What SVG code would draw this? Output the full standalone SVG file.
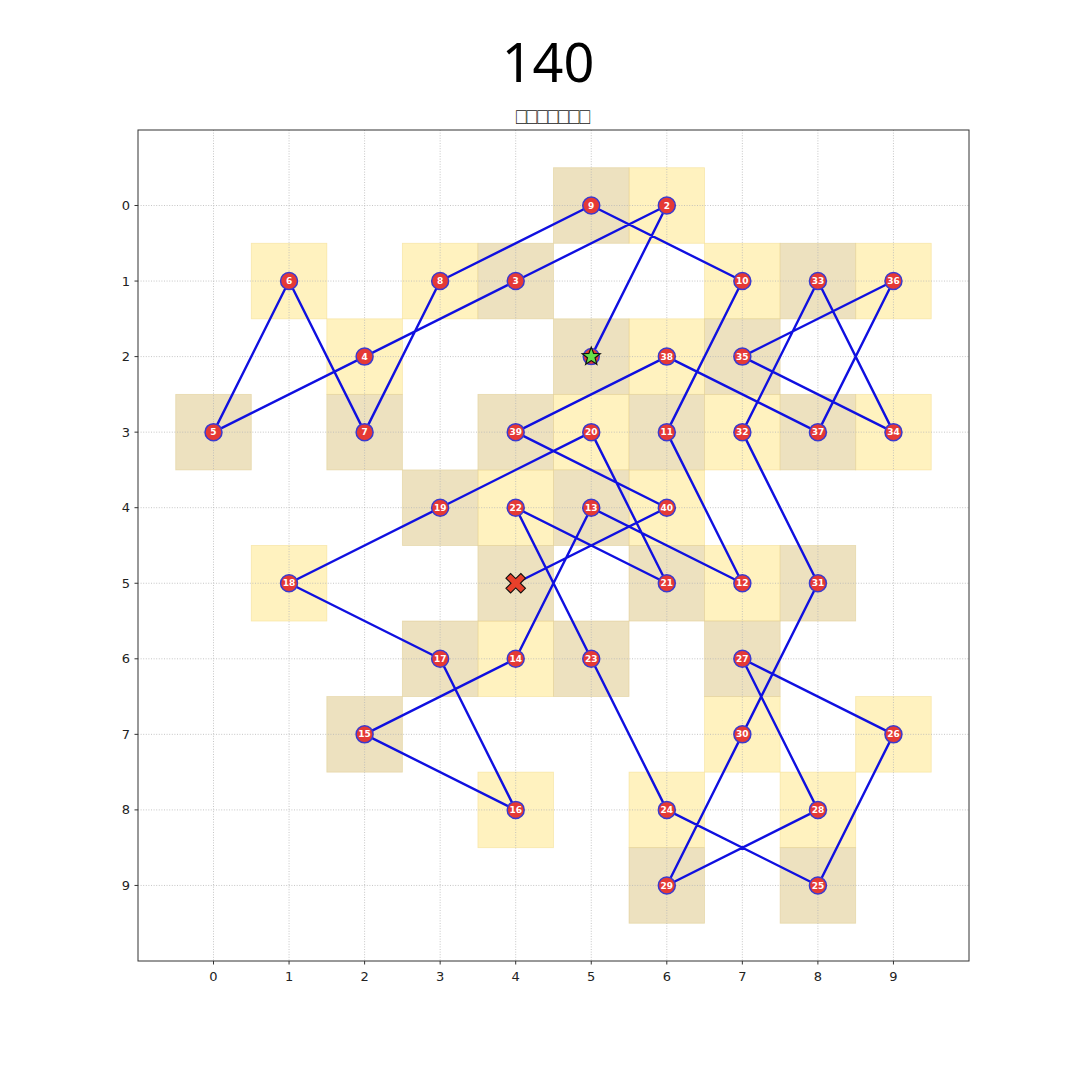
<svg xmlns="http://www.w3.org/2000/svg" width="1080" height="1080" viewBox="0 0 1080 1080">
<style>
.y{fill:#fff2bf;stroke:#f3dc8c;stroke-width:0.8;stroke-opacity:0.6}
.t{fill:#ede1bf;stroke:#e0cc8e;stroke-width:0.8;stroke-opacity:0.6}
.g{stroke:#b8b8b8;stroke-width:0.8;stroke-dasharray:1,1.6}
.tk{stroke:#333;stroke-width:1}
.tl{font-family:"DejaVu Sans",sans-serif;font-size:13px;fill:#222}
.n circle{fill:#e53935;stroke:#3a3ad0;stroke-width:1.5}
.n text{font-family:"DejaVu Sans",sans-serif;font-size:9px;font-weight:bold;fill:#fff;text-anchor:middle}
</style>
<rect width="1080" height="1080" fill="#fff"/>
<text x="548" y="82" font-family="'Noto Sans',sans-serif" font-size="54" text-anchor="middle" fill="#000">140</text>
<text x="553" y="124" font-family="'Liberation Sans',sans-serif" font-size="23" text-anchor="middle" fill="#222" textLength="74" lengthAdjust="spacingAndGlyphs">□□□□□□□</text>
<g id="cells">
<rect class="y" x="629.03" y="167.73" width="75.55" height="75.55"/>
<rect class="y" x="251.28" y="243.28" width="75.55" height="75.55"/>
<rect class="y" x="402.38" y="243.28" width="75.55" height="75.55"/>
<rect class="y" x="704.58" y="243.28" width="75.55" height="75.55"/>
<rect class="y" x="855.68" y="243.28" width="75.55" height="75.55"/>
<rect class="y" x="326.83" y="318.83" width="75.55" height="75.55"/>
<rect class="y" x="629.03" y="318.83" width="75.55" height="75.55"/>
<rect class="y" x="553.48" y="394.38" width="75.55" height="75.55"/>
<rect class="y" x="704.58" y="394.38" width="75.55" height="75.55"/>
<rect class="y" x="855.68" y="394.38" width="75.55" height="75.55"/>
<rect class="y" x="477.93" y="469.93" width="75.55" height="75.55"/>
<rect class="y" x="629.03" y="469.93" width="75.55" height="75.55"/>
<rect class="y" x="251.28" y="545.48" width="75.55" height="75.55"/>
<rect class="y" x="704.58" y="545.48" width="75.55" height="75.55"/>
<rect class="y" x="477.93" y="621.03" width="75.55" height="75.55"/>
<rect class="y" x="704.58" y="696.58" width="75.55" height="75.55"/>
<rect class="y" x="855.68" y="696.58" width="75.55" height="75.55"/>
<rect class="y" x="477.93" y="772.13" width="75.55" height="75.55"/>
<rect class="y" x="629.03" y="772.13" width="75.55" height="75.55"/>
<rect class="y" x="780.13" y="772.13" width="75.55" height="75.55"/>
<rect class="t" x="553.48" y="167.73" width="75.55" height="75.55"/>
<rect class="t" x="477.93" y="243.28" width="75.55" height="75.55"/>
<rect class="t" x="780.13" y="243.28" width="75.55" height="75.55"/>
<rect class="t" x="553.48" y="318.83" width="75.55" height="75.55"/>
<rect class="t" x="704.58" y="318.83" width="75.55" height="75.55"/>
<rect class="t" x="175.73" y="394.38" width="75.55" height="75.55"/>
<rect class="t" x="326.83" y="394.38" width="75.55" height="75.55"/>
<rect class="t" x="477.93" y="394.38" width="75.55" height="75.55"/>
<rect class="t" x="629.03" y="394.38" width="75.55" height="75.55"/>
<rect class="t" x="780.13" y="394.38" width="75.55" height="75.55"/>
<rect class="t" x="402.38" y="469.93" width="75.55" height="75.55"/>
<rect class="t" x="553.48" y="469.93" width="75.55" height="75.55"/>
<rect class="t" x="477.93" y="545.48" width="75.55" height="75.55"/>
<rect class="t" x="629.03" y="545.48" width="75.55" height="75.55"/>
<rect class="t" x="780.13" y="545.48" width="75.55" height="75.55"/>
<rect class="t" x="402.38" y="621.03" width="75.55" height="75.55"/>
<rect class="t" x="553.48" y="621.03" width="75.55" height="75.55"/>
<rect class="t" x="704.58" y="621.03" width="75.55" height="75.55"/>
<rect class="t" x="326.83" y="696.58" width="75.55" height="75.55"/>
<rect class="t" x="629.03" y="847.68" width="75.55" height="75.55"/>
<rect class="t" x="780.13" y="847.68" width="75.55" height="75.55"/>
</g>
<g id="grid">
<line class="g" x1="213.5" y1="130" x2="213.5" y2="961"/>
<line class="g" x1="289.05" y1="130" x2="289.05" y2="961"/>
<line class="g" x1="364.6" y1="130" x2="364.6" y2="961"/>
<line class="g" x1="440.15" y1="130" x2="440.15" y2="961"/>
<line class="g" x1="515.7" y1="130" x2="515.7" y2="961"/>
<line class="g" x1="591.25" y1="130" x2="591.25" y2="961"/>
<line class="g" x1="666.8" y1="130" x2="666.8" y2="961"/>
<line class="g" x1="742.35" y1="130" x2="742.35" y2="961"/>
<line class="g" x1="817.9" y1="130" x2="817.9" y2="961"/>
<line class="g" x1="893.45" y1="130" x2="893.45" y2="961"/>
<line class="g" x1="138" y1="205.5" x2="969" y2="205.5"/>
<line class="g" x1="138" y1="281.05" x2="969" y2="281.05"/>
<line class="g" x1="138" y1="356.6" x2="969" y2="356.6"/>
<line class="g" x1="138" y1="432.15" x2="969" y2="432.15"/>
<line class="g" x1="138" y1="507.7" x2="969" y2="507.7"/>
<line class="g" x1="138" y1="583.25" x2="969" y2="583.25"/>
<line class="g" x1="138" y1="658.8" x2="969" y2="658.8"/>
<line class="g" x1="138" y1="734.35" x2="969" y2="734.35"/>
<line class="g" x1="138" y1="809.9" x2="969" y2="809.9"/>
<line class="g" x1="138" y1="885.45" x2="969" y2="885.45"/>
</g>
<g id="axes">
<rect x="138" y="130" width="831" height="831" fill="none" stroke="#333" stroke-width="1"/>
<path class="tk" d="M134.5 205.5H138M134.5 281.05H138M134.5 356.6H138M134.5 432.15H138M134.5 507.7H138M134.5 583.25H138M134.5 658.8H138M134.5 734.35H138M134.5 809.9H138M134.5 885.45H138"/>
<path class="tk" d="M213.5 961V964.5M289.05 961V964.5M364.6 961V964.5M440.15 961V964.5M515.7 961V964.5M591.25 961V964.5M666.8 961V964.5M742.35 961V964.5M817.9 961V964.5M893.45 961V964.5"/>
<g class="tl" text-anchor="end">
<text x="130" y="210">0</text><text x="130" y="285.5">1</text><text x="130" y="361">2</text><text x="130" y="436.6">3</text><text x="130" y="512.2">4</text><text x="130" y="587.7">5</text><text x="130" y="663.3">6</text><text x="130" y="738.8">7</text><text x="130" y="814.4">8</text><text x="130" y="889.9">9</text>
</g>
<g class="tl" text-anchor="middle">
<text x="213.5" y="981">0</text><text x="289.05" y="981">1</text><text x="364.6" y="981">2</text><text x="440.15" y="981">3</text><text x="515.7" y="981">4</text><text x="591.25" y="981">5</text><text x="666.8" y="981">6</text><text x="742.35" y="981">7</text><text x="817.9" y="981">8</text><text x="893.45" y="981">9</text>
</g>
</g>
<g id="connectors">
<polyline fill="none" stroke="#1010e0" stroke-width="2.4" stroke-linejoin="round" points="591.25,356.6 666.8,205.5 515.7,281.05 364.6,356.6 213.5,432.15 289.05,281.05 364.6,432.15 440.15,281.05 591.25,205.5 742.35,281.05 666.8,432.15 742.35,583.25 591.25,507.7 515.7,658.8 364.6,734.35 515.7,809.9 440.15,658.8 289.05,583.25 440.15,507.7 591.25,432.15 666.8,583.25 515.7,507.7 591.25,658.8 666.8,809.9 817.9,885.45 893.45,734.35 742.35,658.8 817.9,809.9 666.8,885.45 742.35,734.35 817.9,583.25 742.35,432.15 817.9,281.05 893.45,432.15 742.35,356.6 893.45,281.05 817.9,432.15 666.8,356.6 515.7,432.15 666.8,507.7 515.7,583.25"/>
</g>
<g id="start" class="n">
<circle cx="591.25" cy="356.6" r="8"/>
<polygon transform="translate(591.25,356.6)" fill="#66e04a" stroke="#111" stroke-width="1.2" stroke-linejoin="miter" points="0,-9.5 2.351,-3.236 9.035,-2.936 3.804,1.236 5.584,7.686 0,4 -5.584,7.686 -3.804,1.236 -9.035,-2.936 -2.351,-3.236"/>
</g>
<g id="n2" class="n"><circle cx="666.8" cy="205.5" r="8.5"/><text x="666.8" y="208.6">2</text></g>
<g id="n3" class="n"><circle cx="515.7" cy="281.05" r="8.5"/><text x="515.7" y="284.15">3</text></g>
<g id="n4" class="n"><circle cx="364.6" cy="356.6" r="8.5"/><text x="364.6" y="359.7">4</text></g>
<g id="n5" class="n"><circle cx="213.5" cy="432.15" r="8.5"/><text x="213.5" y="435.25">5</text></g>
<g id="n6" class="n"><circle cx="289.05" cy="281.05" r="8.5"/><text x="289.05" y="284.15">6</text></g>
<g id="n7" class="n"><circle cx="364.6" cy="432.15" r="8.5"/><text x="364.6" y="435.25">7</text></g>
<g id="n8" class="n"><circle cx="440.15" cy="281.05" r="8.5"/><text x="440.15" y="284.15">8</text></g>
<g id="n9" class="n"><circle cx="591.25" cy="205.5" r="8.5"/><text x="591.25" y="208.6">9</text></g>
<g id="n10" class="n"><circle cx="742.35" cy="281.05" r="8.5"/><text x="742.35" y="284.15">10</text></g>
<g id="n11" class="n"><circle cx="666.8" cy="432.15" r="8.5"/><text x="666.8" y="435.25">11</text></g>
<g id="n12" class="n"><circle cx="742.35" cy="583.25" r="8.5"/><text x="742.35" y="586.35">12</text></g>
<g id="n13" class="n"><circle cx="591.25" cy="507.7" r="8.5"/><text x="591.25" y="510.8">13</text></g>
<g id="n14" class="n"><circle cx="515.7" cy="658.8" r="8.5"/><text x="515.7" y="661.9">14</text></g>
<g id="n15" class="n"><circle cx="364.6" cy="734.35" r="8.5"/><text x="364.6" y="737.45">15</text></g>
<g id="n16" class="n"><circle cx="515.7" cy="809.9" r="8.5"/><text x="515.7" y="813">16</text></g>
<g id="n17" class="n"><circle cx="440.15" cy="658.8" r="8.5"/><text x="440.15" y="661.9">17</text></g>
<g id="n18" class="n"><circle cx="289.05" cy="583.25" r="8.5"/><text x="289.05" y="586.35">18</text></g>
<g id="n19" class="n"><circle cx="440.15" cy="507.7" r="8.5"/><text x="440.15" y="510.8">19</text></g>
<g id="n20" class="n"><circle cx="591.25" cy="432.15" r="8.5"/><text x="591.25" y="435.25">20</text></g>
<g id="n21" class="n"><circle cx="666.8" cy="583.25" r="8.5"/><text x="666.8" y="586.35">21</text></g>
<g id="n22" class="n"><circle cx="515.7" cy="507.7" r="8.5"/><text x="515.7" y="510.8">22</text></g>
<g id="n23" class="n"><circle cx="591.25" cy="658.8" r="8.5"/><text x="591.25" y="661.9">23</text></g>
<g id="n24" class="n"><circle cx="666.8" cy="809.9" r="8.5"/><text x="666.8" y="813">24</text></g>
<g id="n25" class="n"><circle cx="817.9" cy="885.45" r="8.5"/><text x="817.9" y="888.55">25</text></g>
<g id="n26" class="n"><circle cx="893.45" cy="734.35" r="8.5"/><text x="893.45" y="737.45">26</text></g>
<g id="n27" class="n"><circle cx="742.35" cy="658.8" r="8.5"/><text x="742.35" y="661.9">27</text></g>
<g id="n28" class="n"><circle cx="817.9" cy="809.9" r="8.5"/><text x="817.9" y="813">28</text></g>
<g id="n29" class="n"><circle cx="666.8" cy="885.45" r="8.5"/><text x="666.8" y="888.55">29</text></g>
<g id="n30" class="n"><circle cx="742.35" cy="734.35" r="8.5"/><text x="742.35" y="737.45">30</text></g>
<g id="n31" class="n"><circle cx="817.9" cy="583.25" r="8.5"/><text x="817.9" y="586.35">31</text></g>
<g id="n32" class="n"><circle cx="742.35" cy="432.15" r="8.5"/><text x="742.35" y="435.25">32</text></g>
<g id="n33" class="n"><circle cx="817.9" cy="281.05" r="8.5"/><text x="817.9" y="284.15">33</text></g>
<g id="n34" class="n"><circle cx="893.45" cy="432.15" r="8.5"/><text x="893.45" y="435.25">34</text></g>
<g id="n35" class="n"><circle cx="742.35" cy="356.6" r="8.5"/><text x="742.35" y="359.7">35</text></g>
<g id="n36" class="n"><circle cx="893.45" cy="281.05" r="8.5"/><text x="893.45" y="284.15">36</text></g>
<g id="n37" class="n"><circle cx="817.9" cy="432.15" r="8.5"/><text x="817.9" y="435.25">37</text></g>
<g id="n38" class="n"><circle cx="666.8" cy="356.6" r="8.5"/><text x="666.8" y="359.7">38</text></g>
<g id="n39" class="n"><circle cx="515.7" cy="432.15" r="8.5"/><text x="515.7" y="435.25">39</text></g>
<g id="n40" class="n"><circle cx="666.8" cy="507.7" r="8.5"/><text x="666.8" y="510.8">40</text></g>
<g id="end">
<polygon transform="translate(515.7,583.25) rotate(45)" fill="#e8402a" stroke="#111" stroke-width="1.1" points="-3.3,-10.5 3.3,-10.5 3.3,-3.3 10.5,-3.3 10.5,3.3 3.3,3.3 3.3,10.5 -3.3,10.5 -3.3,3.3 -10.5,3.3 -10.5,-3.3 -3.3,-3.3"/>
</g>
</svg>
